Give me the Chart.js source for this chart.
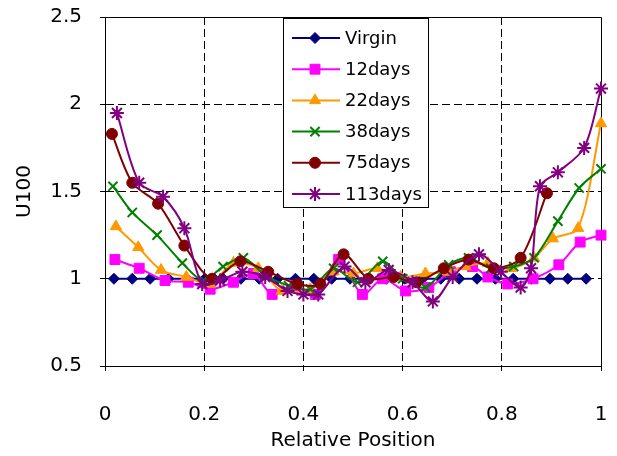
<!DOCTYPE html>
<html><head><meta charset="utf-8">
<script src="https://cdn.jsdelivr.net/npm/chart.js@4.4.1/dist/chart.umd.min.js"></script>
<style>html,body{margin:0;padding:0;background:#fff;}canvas{display:block;}</style>
</head><body>
<canvas id="c" width="617" height="456"></canvas>
<script>
const seriesNames = ['Virgin','12days','22days','38days','75days','113days'];
const xTickLabels = ['0','0.2','0.4','0.6','0.8','1'];
const yTickLabels = ['0.5','1','1.5','2','2.5'];

const virginX = [0.018,0.055,0.091,0.128,0.165,0.201,0.238,0.274,0.311,0.348,0.384,0.421,0.457,0.494,0.531,0.567,0.604,0.640,0.677,0.714,0.750,0.787,0.823,0.860,0.897,0.933,0.970];
const virginY = [1,1,1,1,1,1,1,1,1,1,1,1,1,1,1,1,1,1,1,1,1,1,1,1,1,1,1];

const d12X = [0.020,0.069,0.121,0.168,0.212,0.259,0.299,0.337,0.384,0.424,0.471,0.519,0.560,0.606,0.653,0.697,0.741,0.772,0.812,0.863,0.915,0.958,1.0];
const d12Y = [1.11,1.06,0.99,0.98,0.94,0.98,1.03,0.91,0.96,0.91,1.11,0.91,1.00,0.93,0.95,1.04,1.07,1.01,0.97,1.00,1.08,1.21,1.25];

const d22X = [0.022,0.067,0.113,0.164,0.212,0.259,0.309,0.356,0.414,0.461,0.501,0.549,0.596,0.646,0.691,0.727,0.772,0.818,0.865,0.903,0.954,1.0];
const d22Y = [1.30,1.18,1.05,1.01,0.97,1.09,1.06,0.93,0.94,1.04,1.03,1.06,1.01,1.03,1.04,1.07,1.09,1.06,1.12,1.23,1.29,1.89];

const d38X = [0.016,0.055,0.105,0.156,0.198,0.238,0.279,0.323,0.370,0.414,0.461,0.509,0.560,0.600,0.646,0.693,0.733,0.778,0.824,0.865,0.913,0.956,1.0];
const d38Y = [1.53,1.38,1.25,1.09,0.99,1.07,1.12,1.02,0.96,0.94,1.06,0.98,1.10,1.00,0.95,1.08,1.12,1.06,1.07,1.12,1.33,1.52,1.63];

const d75X = [0.014,0.055,0.107,0.160,0.216,0.273,0.329,0.388,0.434,0.481,0.531,0.582,0.628,0.683,0.733,0.784,0.838,0.891];
const d75Y = [1.83,1.55,1.43,1.19,1.00,1.10,1.04,0.97,0.97,1.14,1.00,1.01,0.98,1.06,1.11,1.06,1.12,1.49];

const d113X = [0.024,0.069,0.117,0.160,0.196,0.232,0.277,0.323,0.368,0.400,0.430,0.483,0.525,0.572,0.620,0.661,0.701,0.754,0.798,0.838,0.859,0.877,0.913,0.966,1.0];
const d113Y = [1.95,1.55,1.47,1.29,0.97,0.99,1.04,1.01,0.93,0.91,0.91,1.07,0.98,1.05,0.98,0.87,1.01,1.14,1.04,0.95,1.06,1.53,1.61,1.75,2.09];

const allX = [virginX,d12X,d22X,d38X,d75X,d113X];
const allY = [virginY,d12Y,d22Y,d38Y,d75Y,d113Y];
const colors = ['#000080','#FF00FF','#FF9900','#008000','#800000','#800080'];
const styles = ['rectRot','rect','triangle','crossRot','circle','star'];
const radii = [5.5,7,6.5,6.5,5.5,7];

const FONT = "'DejaVu Sans', sans-serif";

const datasets = seriesNames.map((name,i)=>({
  label: name,
  data: allX[i].map((x,j)=>({x:x,y:allY[i][j]})),
  borderColor: colors[i],
  backgroundColor: colors[i],
  pointBackgroundColor: colors[i],
  pointBorderColor: colors[i],
  pointStyle: styles[i],
  pointRadius: radii[i],
  pointBorderWidth: (styles[i]==='crossRot'||styles[i]==='star') ? 2 : 1,
  borderWidth: 2,
  tension: 0.3,
  fill: false,
  order: seriesNames.length - i,
  clip: false
}));

const framePlugin = {
  id: 'frame',
  beforeDatasetsDraw(chart){
    const {ctx, chartArea:a} = chart;
    ctx.save();
    ctx.strokeStyle = '#000';
    ctx.lineWidth = 1;
    ctx.setLineDash([]);
    ctx.beginPath();
    ctx.moveTo(a.left, a.top+0.5); ctx.lineTo(a.right+0.5, a.top+0.5);
    ctx.lineTo(a.right+0.5, a.bottom);
    ctx.stroke();
    ctx.restore();
  },
  afterDraw(chart){
    const ctx = chart.ctx;
    const box = {l:283.5, t:18.5, w:145, h:189};
    ctx.save();
    ctx.fillStyle = '#fff';
    ctx.fillRect(box.l, box.t, box.w, box.h);
    ctx.strokeStyle = '#000';
    ctx.lineWidth = 1;
    ctx.setLineDash([]);
    ctx.strokeRect(box.l, box.t, box.w, box.h);
    ctx.font = '18px ' + FONT;
    ctx.textBaseline = 'middle';
    ctx.textAlign = 'left';
    chart.data.datasets.forEach((ds,i)=>{
      const y = 38 + i*31.2;
      ctx.strokeStyle = ds.borderColor;
      ctx.lineWidth = 2;
      ctx.beginPath(); ctx.moveTo(292, y); ctx.lineTo(340, y); ctx.stroke();
      ctx.fillStyle = ds.pointBackgroundColor;
      ctx.strokeStyle = ds.pointBorderColor;
      ctx.lineWidth = ds.pointBorderWidth;
      Chart.helpers.drawPoint(ctx, {pointStyle: ds.pointStyle, radius: ds.pointRadius, rotation: 0, borderWidth: ds.pointBorderWidth}, 315, y);
      ctx.fillStyle = '#000';
      ctx.fillText(ds.label, 345, y+1);
    });
    ctx.restore();
  }
};

const gridColor = (ctx, lo, hi) => {
  if (ctx.tick && (Math.abs(ctx.tick.value-lo)<1e-6 || Math.abs(ctx.tick.value-hi)<1e-6)) return 'rgba(0,0,0,0)';
  return '#000';
};

new Chart(document.getElementById('c'), {
  type: 'line',
  data: { datasets },
  plugins: [framePlugin],
  options: {
    responsive: false,
    animation: false,
    layout: { padding: { left: 0, right: 16, top: 17, bottom: 0 } },
    plugins: { legend: { display: false }, tooltip: { enabled: false } },
    scales: {
      x: {
        type: 'linear', min: 0, max: 1,
        afterFit(s){ s.height = 90; s.paddingLeft = 0; s.paddingRight = 0; },
        ticks: { stepSize: 0.2, padding: 32, color: '#000', font: { family: FONT, size: 20 },
          callback: (v) => xTickLabels[Math.round(v/0.2)] },
        grid: { color: (c)=>gridColor(c,0,1), lineWidth: 1, tickLength: 5, tickColor: '#000', tickBorderDash: [] },
        border: { display: true, color: '#000', width: 1, dash: [8,4] },
        title: { display: true, text: 'Relative Position', color: '#000', font: { family: FONT, size: 20 }, padding: { top: 0, bottom: 3 } }
      },
      y: {
        type: 'linear', min: 0.5, max: 2.5,
        afterFit(s){ s.width = 105; s.paddingTop = 0; s.paddingBottom = 0; },
        ticks: { stepSize: 0.5, padding: 18, color: '#000', font: { family: FONT, size: 20 },
          callback: (v) => yTickLabels[Math.round((v-0.5)/0.5)] },
        grid: { color: (c)=>gridColor(c,0.5,2.5), lineWidth: 1, tickLength: 5, tickColor: '#000', tickBorderDash: [] },
        border: { display: true, color: '#000', width: 1, dash: [8,4] },
        title: { display: true, text: 'U100', color: '#000', font: { family: FONT, size: 20 }, padding: { top: 13, bottom: 0 } }
      }
    }
  }
});
</script>
</body></html>
